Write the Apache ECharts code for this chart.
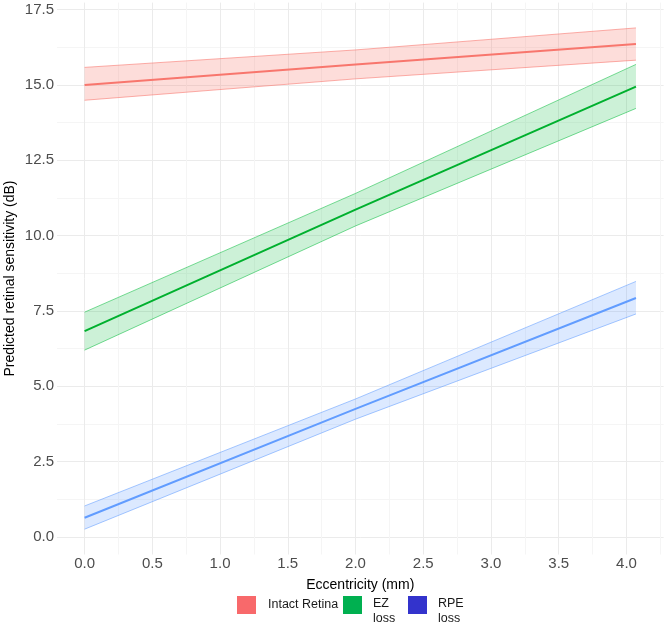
<!DOCTYPE html>
<html>
<head>
<meta charset="utf-8">
<script src="https://cdn.jsdelivr.net/npm/echarts@6/dist/echarts.min.js"></script>
<style>html,body{margin:0;padding:0;background:#fff}#c{width:666px;height:624px}</style>
</head>
<body>
<div id="c"></div>
<script>
// ---- data ----
const eccentricity = [0, 2, 4.07];
const intactMid  = [15.00, 15.68, 16.36];
const intactLow  = [14.49, 15.20, 15.82];
const intactHigh = [15.58, 16.16, 16.89];
const ezMid  = [6.83, 10.86, 14.94];
const ezLow  = [6.20, 10.32, 14.22];
const ezHigh = [7.46, 11.40, 15.68];
const rpeMid  = [0.64, 4.25, 7.93];
const rpeLow  = [0.26, 3.91, 7.40];
const rpeHigh = [1.03, 4.58, 8.48];
const groupNames = ['Intact Retina', 'EZ loss', 'RPE loss'];
const xMajorTicks = [0, 0.5, 1, 1.5, 2, 2.5, 3, 3.5, 4];
const xMinorTicks = [0.25, 0.75, 1.25, 1.75, 2.25, 2.75, 3.25, 3.75, 4.25];
const yMajorTicks = [0, 2.5, 5, 7.5, 10, 12.5, 15, 17.5];
const yMinorTicks = [1.25, 3.75, 6.25, 8.75, 11.25, 13.75, 16.25];

const groups = [
  {name: groupNames[0], mid: intactMid, low: intactLow, high: intactHigh,
   line: '#F8766D', fill: 'rgba(248,118,109,0.25)', edge: 'rgba(248,118,109,0.85)', legend: '#F8696B'},
  {name: groupNames[1], mid: ezMid, low: ezLow, high: ezHigh,
   line: '#00B02E', fill: 'rgba(0,186,56,0.2)', edge: 'rgba(0,186,56,0.75)', legend: '#00B050'},
  {name: groupNames[2], mid: rpeMid, low: rpeLow, high: rpeHigh,
   line: '#619CFF', fill: 'rgba(97,156,255,0.22)', edge: 'rgba(97,156,255,0.8)', legend: '#3333CC'}
];

const FONT = '"Liberation Sans", Arial, sans-serif';
const series = [];
groups.forEach((g, i) => {
  series.push({
    name: g.name + ' band', type: 'custom', silent: true, z: 2,
    coordinateSystem: 'cartesian2d',
    encode: {x: 0, y: [1, 2]},
    data: eccentricity.map((x, k) => [x, g.low[k], g.high[k]]),
    renderItem: function (params, api) {
      if (params.dataIndex !== 0) return null;
      const up = [], lo = [];
      for (let k = 0; k < eccentricity.length; k++) {
        up.push(api.coord([eccentricity[k], g.high[k]]));
        lo.push(api.coord([eccentricity[k], g.low[k]]));
      }
      const poly = up.concat(lo.slice().reverse());
      return {
        type: 'group',
        children: [
          {type: 'polygon', shape: {points: poly}, style: {fill: g.fill, stroke: null}},
          {type: 'polyline', shape: {points: up}, style: {stroke: g.edge, lineWidth: 0.7, fill: null}},
          {type: 'polyline', shape: {points: lo}, style: {stroke: g.edge, lineWidth: 0.7, fill: null}}
        ]
      };
    }
  });
});
groups.forEach(g => {
  series.push({
    name: g.name, type: 'line', symbol: 'none',
    data: eccentricity.map((x, k) => [x, g.mid[k]]),
    lineStyle: {width: 2, color: g.line}, itemStyle: {color: g.legend}, z: 3
  });
});

// square swatch; two-line labels get a taller icon box with the square at its top
const squareIcon = 'path://M0,0L19,0L19,18L0,18Z';
const tallIcon = 'path://M0,0L19,0L19,18L0,18ZM0,0L0,30';
const legendPos = [237, 343, 408];
const legends = groups.map((g, i) => ({
  data: [{name: g.name, icon: i === 0 ? squareIcon : tallIcon,
          itemStyle: {color: g.legend, borderWidth: 0}}],
  left: legendPos[i], top: 596, itemWidth: 19, itemHeight: i === 0 ? 18 : 30, padding: 0,
  selectedMode: false,
  formatter: n => n === 'Intact Retina' ? n : n.replace(' ', '\n'),
  textStyle: {fontFamily: FONT, fontSize: 12.5, color: '#1a1a1a', lineHeight: 15,
              padding: i === 0 ? [0, 0, 0, 7] : [0, 0, 0, 6]}
}));

const chart = echarts.init(document.getElementById('c'), null, {renderer: 'canvas'});
chart.setOption({
  animation: false,
  backgroundColor: '#ffffff',
  grid: {left: 57, right: 2.4, top: 2.6, bottom: 69.5, containLabel: false, outerBoundsMode: 'none'},
  legend: legends,
  xAxis: [
    {type: 'value', min: -0.2035, max: 4.274,
     name: 'Eccentricity (mm)', nameLocation: 'middle', nameGap: 24,
     nameTextStyle: {fontFamily: FONT, fontSize: 14, color: '#000'},
     axisLine: {show: false},
     axisTick: {show: false, customValues: xMajorTicks},
     axisLabel: {customValues: xMajorTicks, formatter: v => v.toFixed(1), margin: 2,
                 fontFamily: FONT, fontSize: 15, color: '#4D4D4D'},
     splitLine: {show: true, lineStyle: {color: '#EBEBEB', width: 1}}},
    {type: 'value', min: -0.2035, max: 4.274, position: 'bottom',
     axisLine: {show: false}, axisLabel: {show: false},
     axisTick: {show: false, customValues: xMinorTicks},
     splitLine: {show: true, lineStyle: {color: '#F5F5F5', width: 1}}}
  ],
  yAxis: [
    {type: 'value', min: -0.58, max: 17.73,
     name: 'Predicted retinal sensitivity (dB)', nameLocation: 'middle', nameGap: 40,
     nameMoveOverlap: false,
     nameTextStyle: {fontFamily: FONT, fontSize: 14, color: '#000'},
     axisLine: {show: false},
     axisTick: {show: false, customValues: yMajorTicks},
     axisLabel: {customValues: yMajorTicks, formatter: v => v.toFixed(1), margin: 3,
                 fontFamily: FONT, fontSize: 15, color: '#4D4D4D'},
     splitLine: {show: true, lineStyle: {color: '#EBEBEB', width: 1}}},
    {type: 'value', min: -0.58, max: 17.73, position: 'left',
     axisLine: {show: false}, axisLabel: {show: false},
     axisTick: {show: false, customValues: yMinorTicks},
     splitLine: {show: true, lineStyle: {color: '#F5F5F5', width: 1}}}
  ],
  series: series
});
</script>
</body>
</html>
